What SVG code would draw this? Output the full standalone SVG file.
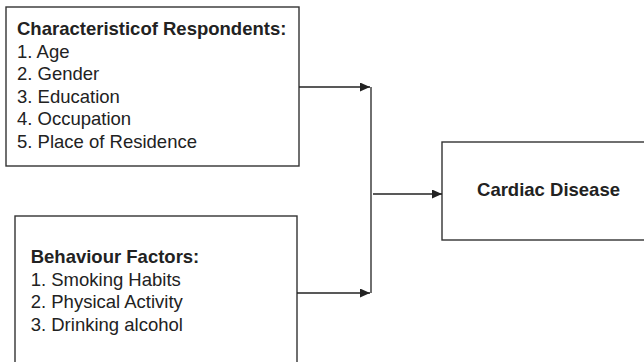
<svg xmlns="http://www.w3.org/2000/svg" width="644" height="362" viewBox="0 0 644 362">
<style>
.box{fill:#fff;stroke:#333;stroke-width:1.4}
.t{font-family:"Liberation Sans",Arial,sans-serif;font-size:18.5px;fill:#222}
.b{font-weight:bold}
.ln{fill:none;stroke:#222;stroke-width:1.3}
</style>
<defs>
<marker id="ah" markerWidth="10" markerHeight="9" refX="10" refY="4.5" orient="auto" markerUnits="userSpaceOnUse">
<path d="M0,0 L10,4.5 L0,9 Z" fill="#222"/>
</marker>
</defs>
<rect width="644" height="362" fill="#fff"/>
<g id="node-characteristics">
<rect class="box" x="6" y="7" width="293" height="159"/>
<text class="t" x="17" y="35"><tspan class="b">Characteristicof Respondents:</tspan><tspan x="17" dy="22.5">1. Age</tspan><tspan x="17" dy="22.5">2. Gender</tspan><tspan x="17" dy="22.5">3. Education</tspan><tspan x="17" dy="22.5">4. Occupation</tspan><tspan x="17" dy="22.5">5. Place of Residence</tspan></text>
</g>
<g id="node-behaviour">
<rect class="box" x="15" y="216" width="282" height="160"/>
<text class="t" x="30.7" y="263.3"><tspan class="b">Behaviour Factors:</tspan><tspan x="30.7" dy="22.5">1. Smoking Habits</tspan><tspan x="30.7" dy="22.5">2. Physical Activity</tspan><tspan x="30.7" dy="22.5">3. Drinking alcohol</tspan></text>
</g>
<g id="node-cardiac">
<rect class="box" x="442" y="142" width="220" height="98"/>
<text class="t b" x="548.5" y="196" text-anchor="middle">Cardiac Disease</text>
</g>
<g id="connectors">
<path class="ln" d="M299,87 H370" marker-end="url(#ah)"/>
<path class="ln" d="M297,293 H370" marker-end="url(#ah)"/>
<path class="ln" d="M371,87 V293"/>
<path class="ln" d="M373,194 H442" marker-end="url(#ah)"/>
</g>
</svg>
